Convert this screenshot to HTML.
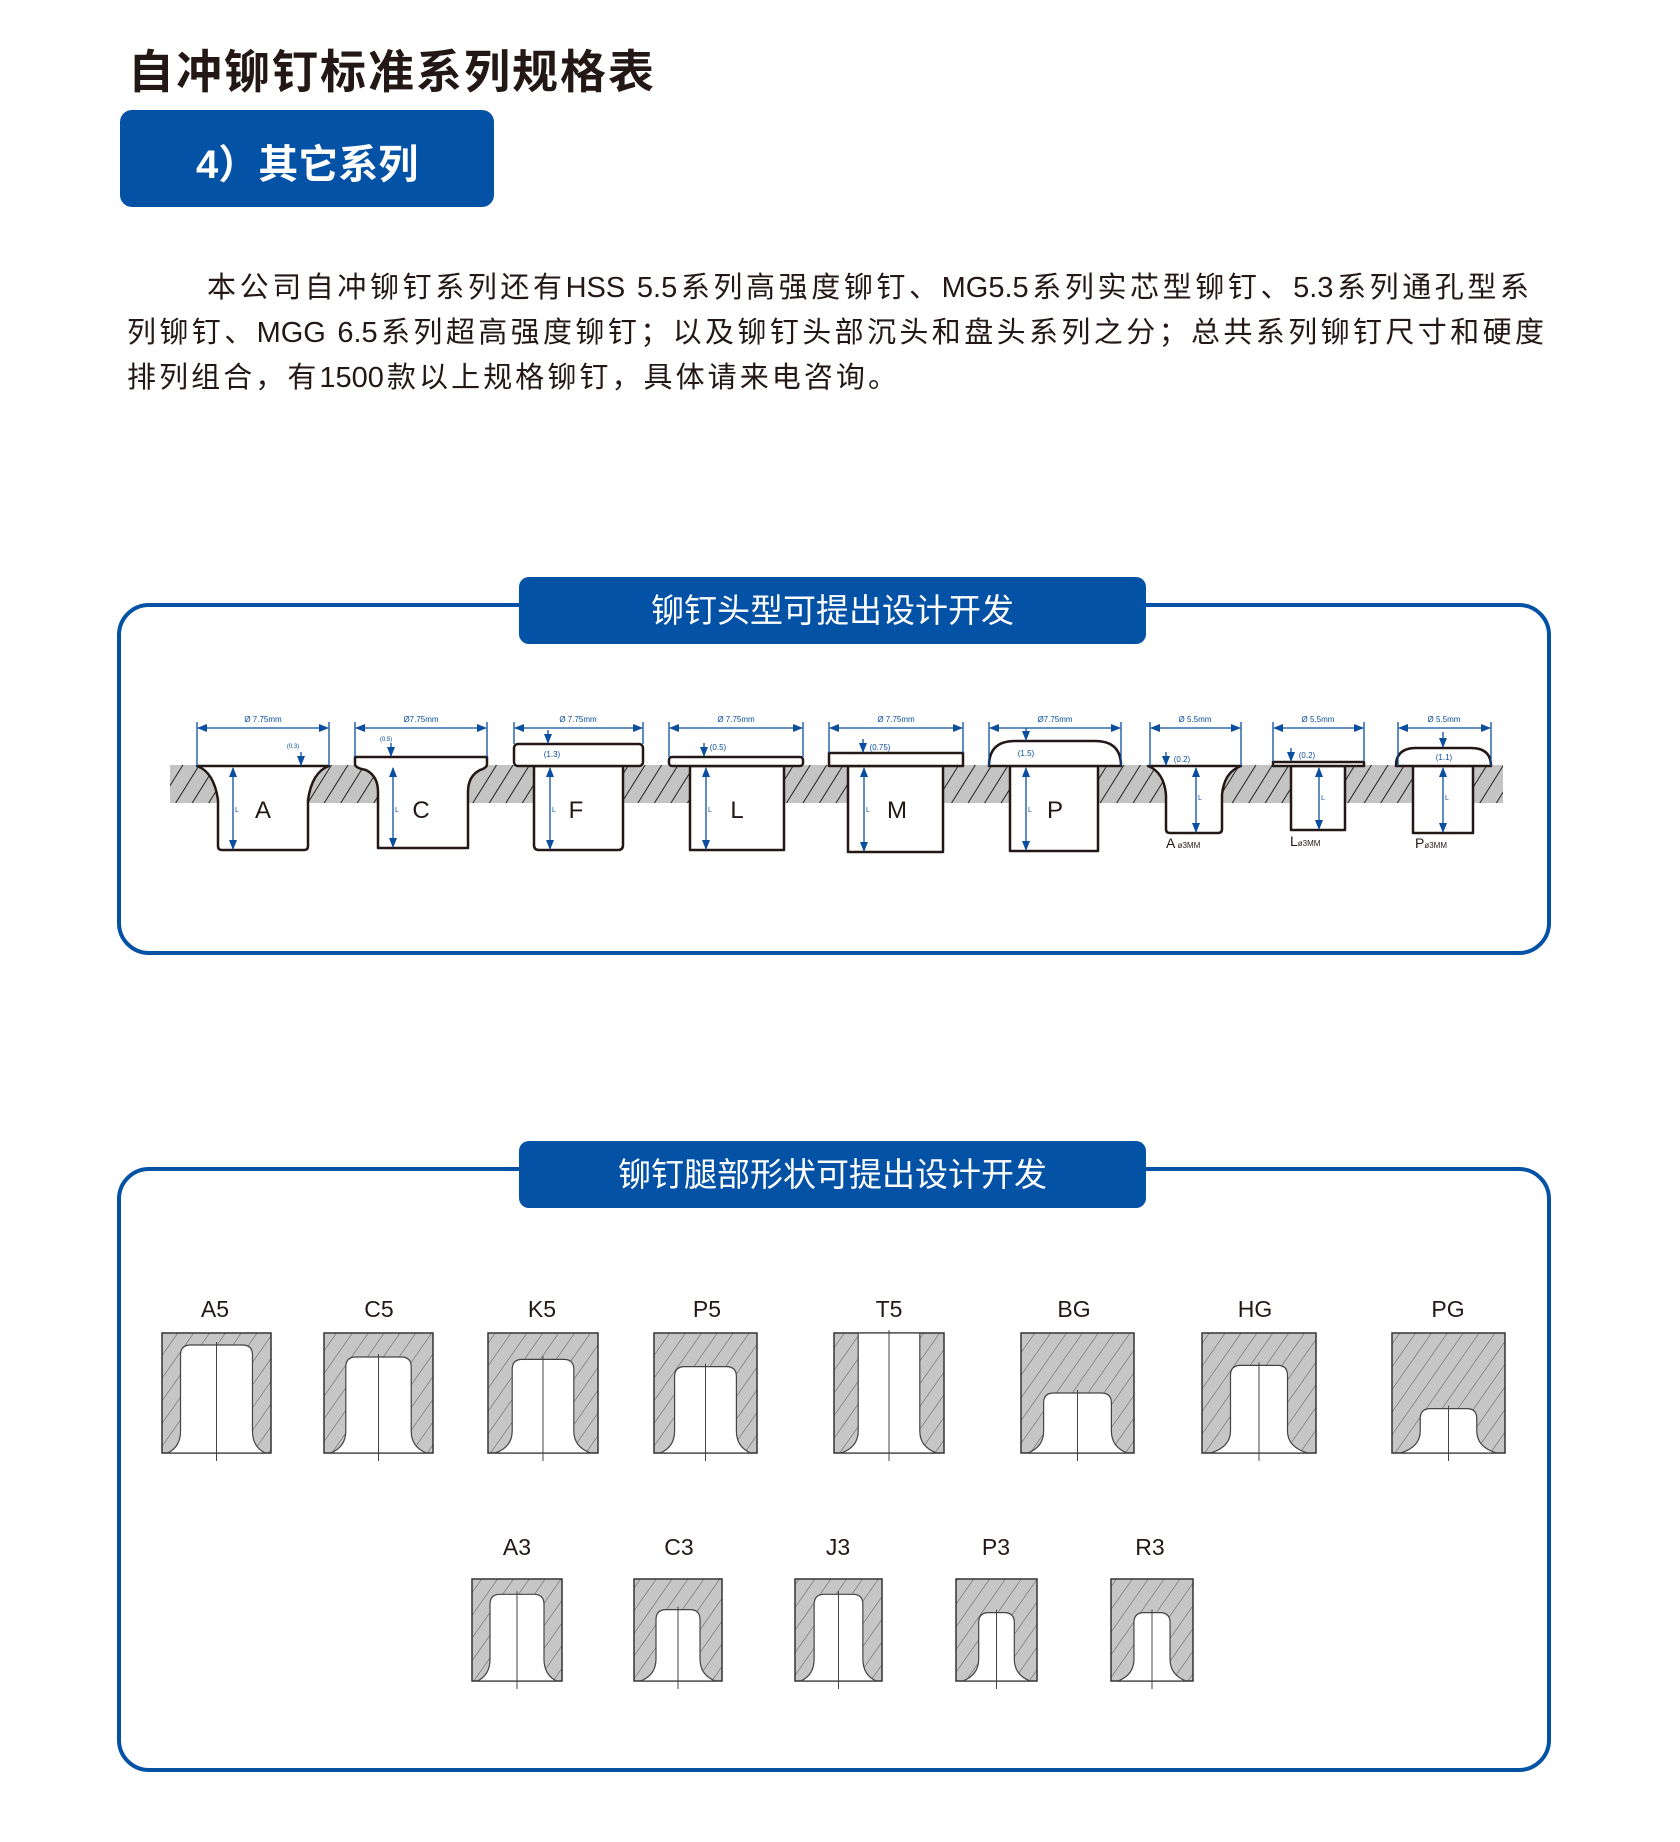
<!DOCTYPE html>
<html><head><meta charset="utf-8">
<style>
html,body{margin:0;padding:0;background:#fff;}
body{width:1680px;height:1842px;position:relative;overflow:hidden;font-family:"Liberation Sans","Noto Sans CJK SC",sans-serif;}
.title{position:absolute;left:128px;top:36px;font-size:46px;font-weight:bold;color:#231815;letter-spacing:2px;white-space:nowrap;}
.tag{position:absolute;left:120px;top:110px;width:374px;height:97px;background:#0452a6;border-radius:12px;}
.tag span{position:absolute;left:76px;top:22px;font-size:40px;font-weight:bold;color:#fff;white-space:nowrap;}
.p{position:absolute;font-size:29px;color:#231815;white-space:nowrap;height:40px;line-height:40px;}
.box{position:absolute;left:117px;width:1426px;border:4px solid #0452a6;border-radius:32px;}
.pill{position:absolute;left:519px;width:627px;height:67px;background:#0452a6;border-radius:10px;color:#fff;font-size:33px;text-align:center;line-height:67px;}
svg{position:absolute;left:0;top:0;}
</style></head><body>
<div class="title">自冲铆钉标准系列规格表</div>
<div class="tag"><span>4）其它系列</span></div>
<div class="p" style="left:207px;top:268px;width:1322px;text-align:justify;text-align-last:justify;">本公司自冲铆钉系列还有HSS 5.5系列高强度铆钉、MG5.5系列实芯型铆钉、5.3系列通孔型系</div>
<div class="p" style="left:127px;top:313px;width:1417px;text-align:justify;text-align-last:justify;">列铆钉、MGG 6.5系列超高强度铆钉；以及铆钉头部沉头和盘头系列之分；总共系列铆钉尺寸和硬度</div>
<div class="p" style="left:127px;top:358px;width:770px;text-align:justify;text-align-last:justify;">排列组合，有1500款以上规格铆钉，具体请来电咨询。</div>

<div class="box" style="top:603px;height:344px;"></div>
<div class="pill" style="top:577px;">铆钉头型可提出设计开发</div>
<div class="box" style="top:1167px;height:597px;"></div>
<div class="pill" style="top:1141px;">铆钉腿部形状可提出设计开发</div>

<svg width="1680" height="1842" viewBox="0 0 1680 1842">
<defs>
<pattern id="h" width="14" height="14" patternUnits="userSpaceOnUse" patternTransform="rotate(32)">
<rect width="14" height="14" fill="#c4c4c4"/><line x1="0" y1="0" x2="0" y2="14" stroke="#222" stroke-width="2"/></pattern>
<pattern id="h2" width="13" height="13" patternUnits="userSpaceOnUse" patternTransform="rotate(35)">
<rect width="13" height="13" fill="#c6c6c6"/><line x1="0" y1="0" x2="0" y2="13" stroke="#555" stroke-width="1"/></pattern>
<marker id="ar" markerWidth="10" markerHeight="8" refX="9" refY="4" orient="auto" markerUnits="userSpaceOnUse"><path d="M0,0 L10,4 L0,8 Z" fill="#0a4ea0"/></marker>
<marker id="al" markerWidth="10" markerHeight="8" refX="1" refY="4" orient="auto" markerUnits="userSpaceOnUse"><path d="M10,0 L0,4 L10,8 Z" fill="#0a4ea0"/></marker>
</defs>
<rect x="170" y="765" width="1333" height="38" fill="url(#h)"/>
<g fill="#fff" stroke="#231815" stroke-width="2.5" stroke-linejoin="round">
<path d="M197,766 L329,766 Q312,772 308,800 L308,846 Q308,850 304,850 L222,850 Q218,850 218,846 L218,800 Q214,772 197,766 Z"/>
<path d="M355,757 L487,757 L487,764 Q487,768 480,770 Q468,776 468,792 L468,848 L378,848 L378,792 Q378,776 366,770 Q355,768 355,764 Z"/>
<path d="M534,766 L534,845 Q534,850 539,850 L618,850 Q623,850 623,845 L623,766 Z"/>
<rect x="514" y="744" width="129" height="22" rx="4"/>
<path d="M690,766 L690,850 L784,850 L784,766 Z"/>
<rect x="669" y="757" width="134" height="9" rx="3"/>
<path d="M848,766 L848,852 L943,852 L943,766 Z"/>
<rect x="829" y="753" width="134" height="13"/>
<path d="M1010,766 L1010,851 L1098,851 L1098,766 Z"/>
<path d="M989,766 Q989,741 1015,741 L1095,741 Q1121,741 1121,766 Z"/>
<path d="M1148,766 L1241,766 Q1224,772 1222,795 L1222,829 Q1222,833 1218,833 L1170,833 Q1166,833 1166,829 L1166,795 Q1164,772 1148,766 Z"/>
<path d="M1291,766 L1291,830 L1345,830 L1345,766 Z"/>
<rect x="1273" y="762" width="91" height="4"/>
<path d="M1413,766 L1413,833 L1473,833 L1473,766 Z"/>
<path d="M1396,766 Q1396,748 1416,748 L1471,748 Q1491,748 1491,766 Z"/>
</g>
<g stroke="#0a4ea0" stroke-width="1.3" fill="none">
<path d="M197,722V766M329,722V766M355,722V757M487,722V757M514,722V744M643,722V744M669,722V757M803,722V757M829,722V753M963,722V753M989,722V766M1121,722V766M1150,722V766M1241,722V766M1273,722V762M1364,722V762M1398,722V766M1491,722V766"/>
<g marker-start="url(#al)" marker-end="url(#ar)">
<line x1="198" y1="728" x2="328" y2="728"/><line x1="356" y1="728" x2="486" y2="728"/><line x1="515" y1="728" x2="642" y2="728"/><line x1="670" y1="728" x2="802" y2="728"/><line x1="830" y1="728" x2="962" y2="728"/><line x1="990" y1="728" x2="1120" y2="728"/><line x1="1151" y1="728" x2="1240" y2="728"/><line x1="1274" y1="728" x2="1363" y2="728"/><line x1="1399" y1="728" x2="1490" y2="728"/>
<line x1="233" y1="768" x2="233" y2="849"/><line x1="393" y1="768" x2="393" y2="847"/><line x1="550" y1="768" x2="550" y2="849"/><line x1="706" y1="768" x2="706" y2="849"/><line x1="864" y1="768" x2="864" y2="851"/><line x1="1026" y1="768" x2="1026" y2="850"/><line x1="1196" y1="768" x2="1196" y2="832"/><line x1="1319" y1="768" x2="1319" y2="829"/><line x1="1443" y1="768" x2="1443" y2="832"/>
</g>
<g marker-end="url(#ar)">
<line x1="301" y1="752" x2="301" y2="765"/><line x1="391" y1="743" x2="391" y2="756"/><line x1="548" y1="730" x2="548" y2="743"/><line x1="704" y1="743" x2="704" y2="756"/><line x1="863" y1="739" x2="863" y2="752"/><line x1="1026" y1="728" x2="1026" y2="740"/><line x1="1166" y1="752" x2="1166" y2="765"/><line x1="1291" y1="748" x2="1291" y2="761"/><line x1="1443" y1="732" x2="1443" y2="747"/>
</g>
</g>
<g fill="#0a4ea0" font-size="8" font-family="Liberation Sans,sans-serif" text-anchor="middle">
<text x="263" y="722">Ø 7.75mm</text><text x="421" y="722">Ø7.75mm</text><text x="578" y="722">Ø 7.75mm</text><text x="736" y="722">Ø 7.75mm</text><text x="896" y="722">Ø 7.75mm</text><text x="1055" y="722">Ø7.75mm</text><text x="1195" y="722">Ø 5.5mm</text><text x="1318" y="722">Ø 5.5mm</text><text x="1444" y="722">Ø 5.5mm</text>
<text x="293" y="748" font-size="6">(0.3)</text><text x="386" y="741" font-size="6">(0.5)</text><text x="552" y="757">(1.3)</text><text x="718" y="750">(0.5)</text><text x="880" y="750">(0.75)</text><text x="1026" y="756">(1.5)</text><text x="1182" y="762">(0.2)</text><text x="1307" y="758">(0.2)</text><text x="1444" y="760">(1.1)</text>
<text x="237" y="812" font-size="7">L</text><text x="397" y="812" font-size="7">L</text><text x="554" y="812" font-size="7">L</text><text x="710" y="812" font-size="7">L</text><text x="868" y="812" font-size="7">L</text><text x="1030" y="812" font-size="7">L</text><text x="1200" y="800" font-size="7">L</text><text x="1323" y="800" font-size="7">L</text><text x="1447" y="800" font-size="7">L</text>
</g>
<g fill="#231815" font-size="24" font-family="Liberation Sans,sans-serif" text-anchor="middle">
<text x="263" y="818">A</text><text x="421" y="818">C</text><text x="576" y="818">F</text><text x="737" y="818">L</text><text x="897" y="818">M</text><text x="1055" y="818">P</text>
</g>
<g fill="#231815" font-size="14" font-family="Liberation Sans,sans-serif">
<text x="1166" y="848">A<tspan font-size="8"> ø3MM</tspan></text><text x="1290" y="846">L<tspan font-size="8">ø3MM</tspan></text><text x="1415" y="848">P<tspan font-size="8">ø3MM</tspan></text>
</g>
<g id="figs"></g>
<g fill="#231815" font-size="23" font-family="Liberation Sans,sans-serif" text-anchor="middle">
<text x="215" y="1317">A5</text><text x="379" y="1317">C5</text><text x="542" y="1317">K5</text><text x="707" y="1317">P5</text><text x="889" y="1317">T5</text><text x="1074" y="1317">BG</text><text x="1255" y="1317">HG</text><text x="1448" y="1317">PG</text>
<text x="517" y="1555">A3</text><text x="679" y="1555">C3</text><text x="838" y="1555">J3</text><text x="996" y="1555">P3</text><text x="1150" y="1555">R3</text>
</g>
</svg>
<script>
var F=[[162,1333,109,120,.17,.1],[324,1333,109,120,.2,.2],[488,1333,110,120,.22,.22],[654,1333,103,120,.2,.28],[834,1333,110,120,.22,-1],[1021,1333,113,120,.2,.5],[1202,1333,114,120,.25,.27],[1392,1333,113,120,.25,.63],
[472,1579,90,102,.2,.15],[634,1579,88,102,.25,.3],[795,1579,87,102,.22,.15],[956,1579,81,102,.28,.33],[1111,1579,82,102,.28,.33]];
var s='';
F.forEach(function(f){var x=f[0],y=f[1],w=f[2],h=f[3],t=f[4]*w,c=f[5];
s+='<rect x="'+x+'" y="'+y+'" width="'+w+'" height="'+h+'" fill="url(#h2)" stroke="#333" stroke-width="1.5"/>';
var ct=c<0?y:y+c*h, b=y+h, l=x+t, r=x+w-t;
var top=c<0?(' L'+l+','+y+' L'+r+','+y):(' L'+l+','+(ct+10)+' Q'+l+','+ct+' '+(l+10)+','+ct+' L'+(r-10)+','+ct+' Q'+r+','+ct+' '+r+','+(ct+10));
var d='M'+(x+t*.3)+','+b+' Q'+l+','+(b-6)+' '+l+','+(b-22)+top+' L'+r+','+(b-22)+' Q'+r+','+(b-6)+' '+(x+w-t*.3)+','+b+' Z';
s+='<path d="'+d+'" fill="#fff" stroke="#444" stroke-width="1.2"/>';
s+='<line x1="'+(x+w/2)+'" y1="'+(ct-3)+'" x2="'+(x+w/2)+'" y2="'+(b+8)+'" stroke="#444" stroke-width="1"/>';
});
document.getElementById('figs').innerHTML=s;
</script>
</body></html>
